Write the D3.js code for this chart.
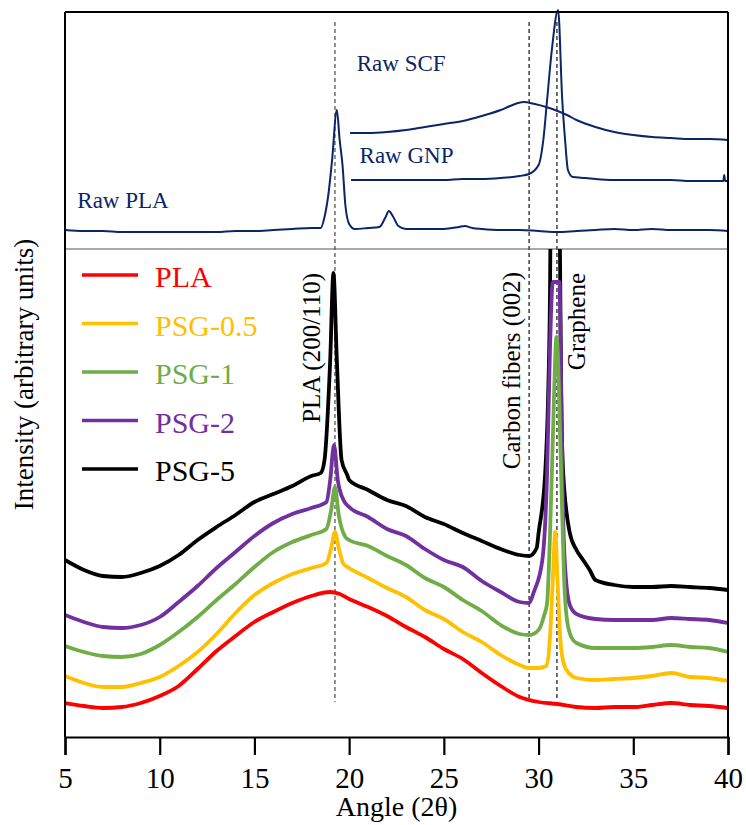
<!DOCTYPE html>
<html>
<head>
<meta charset="utf-8">
<script src="https://cdn.jsdelivr.net/npm/d3@7"></script>
<style>
    body { margin: 0; background: #fff; }
</style>
</head>
<body>
<svg id="xrd"></svg>
<script>
// angle (2theta), intensity (arbitrary units)
const rawPLA = [[5,770],[6,769],[7,769],[8,768],[9,768],[10,768],[11,768],[12,768],[13,768],[14,769],[15,769],[16,770],[17,771],[18,772],[18.5,772],[18.7,783],[18.9,805],[19.1,840],[19.35,890],[19.5,860],[19.65,835],[19.8,795],[20,776],[20.3,771],[21,772],[21.6,773],[21.9,782],[22.1,789],[22.3,784],[22.6,774],[23,771],[24,771],[25,771],[25.8,773],[26.1,774],[26.5,772],[27,771],[28,770],[29,770],[30,769],[31,768],[32,769],[33,770],[34,771],[35,770],[36,771],[37,770],[38,770],[39,770],[40,769]];
const rawSCF = [[20.05,867],[21,867],[22,868],[23,870],[24,873],[25,876],[26,879],[27,884],[28,890],[28.5,894],[29.2,898],[29.8,896],[30.4,893],[31,889],[31.5,885],[32,880],[33,873],[34,868],[35,865],[36,863],[37,862],[38,861],[39,861],[40,860]];
const rawGNP = [[20.1,820],[21,820],[22,820],[23,820],[24,820],[25,820],[26,821],[27,821],[28,822],[29,824],[29.5,826],[30,835],[30.25,860],[30.45,900],[30.7,950],[31.03,990],[31.25,900],[31.4,860],[31.55,830],[31.8,823],[32.5,822],[33,821],[34,820],[35,820],[36,820],[37,820],[38,819],[39,819],[39.75,819],[39.8,825],[39.85,819],[40,819]];

const pla = [[5,297],[6,294],[7,292],[8,293],[9,297],[10,304],[11,314],[12,331],[13,349],[14,364],[15,378],[16,388],[17,397],[18,404],[19,408],[19.5,406],[20,401],[21,393],[22,384],[23,373],[24,363],[25,351],[26,341],[27,327],[28,314],[29,303],[30,298],[31,296],[32,293],[33,292],[34,293],[35,293],[36,295],[37,297],[38,295],[39,294],[40,292]];
const psg05 = [[5,324],[6,317],[7,313],[8,313],[9,317],[10,323],[11,334],[12,348],[13,366],[14,387],[15,405],[16,417],[17,426],[18,432],[18.8,437],[19.05,452],[19.25,468],[19.45,452],[19.7,436],[20,432],[21,422],[22,412],[23,403],[24,390],[25,381],[26,368],[27,358],[28,345],[29,335],[29.5,332],[30,332],[30.4,334],[30.6,362],[30.75,420],[30.88,468],[31,420],[31.15,360],[31.35,335],[31.6,327],[32,322],[33,320],[34,321],[35,322],[36,324],[37,327],[38,323],[39,322],[40,319]];
const psg1 = [[5,354],[6,348],[7,344],[8,343],[9,346],[10,355],[11,368],[12,383],[13,400],[14,416],[15,433],[16,448],[17,458],[18,465],[18.8,471],[19.05,490],[19.25,513],[19.45,485],[19.8,463],[20,460],[21,454],[22,444],[23,435],[24,422],[25,413],[26,400],[27,389],[28,375],[29,366],[29.5,365],[30,370],[30.3,385],[30.45,397],[30.6,463],[30.75,560],[30.95,663],[31.2,520],[31.35,420],[31.5,380],[31.75,362],[32,357],[33,352],[34,352],[35,352],[36,353],[37,355],[38,353],[39,352],[40,348]];
const psg2 = [[5,385],[6,378],[7,373],[8,372],[9,375],[10,383],[11,398],[12,414],[13,432],[14,448],[15,464],[16,477],[17,486],[18,492],[18.8,498],[19,520],[19.2,555],[19.4,520],[19.7,500],[20,493],[21,483],[22,471],[23,464],[24,451],[25,440],[26,433],[27,419],[28,408],[29,398],[29.5,397],[29.75,408],[30.2,440],[30.45,527],[30.6,650],[30.75,718],[31.1,718],[31.2,600],[31.3,480],[31.45,420],[31.65,395],[32,386],[33,381],[34,380],[35,380],[36,380],[37,382],[38,381],[39,380],[40,377]];
const psg5 = [[5,440],[6,430],[7,424],[8,423],[9,427],[10,434],[11,445],[12,460],[13,473],[14,485],[15,498],[16,506],[17,514],[18,524],[18.5,527],[18.7,540],[19,640],[19.17,727],[19.35,640],[19.6,540],[19.9,525],[20,520],[21,510],[22,500],[23,494],[24,483],[25,476],[26,467],[27,459],[28,451],[29,445],[29.5,444],[29.9,452],[30,467],[30.35,527],[30.5,600],[30.6,700],[30.65,800],[31.1,800],[31.15,700],[31.2,600],[31.3,527],[31.65,467],[32,450],[32.35,440],[32.7,430],[33,420],[34,415],[35,413],[36,413],[37,414],[38,413],[39,412],[40,410]];

const sampleNames = ['PLA', 'PSG-0.5', 'PSG-1', 'PSG-2', 'PSG-5'];
const rawNames = ['Raw PLA', 'Raw SCF', 'Raw GNP'];
const angleTicks = [5, 10, 15, 20, 25, 30, 35, 40];
const peakAngles = [19.25, 29.5, 30.97];
const peakNames = ['PLA (200/110)', 'Carbon fibers (002)', 'Graphene'];
const panelSplit = 751;

const SERIF = "'Liberation Serif', 'Times New Roman', Times, 'DejaVu Serif', serif";

class XrdChart {

    constructor(_config) {
        this.config = {
            parentElement: _config.parentElement,
            containerWidth: _config.containerWidth || 746,
            containerHeight: _config.containerHeight || 825,
            margin: {top: 12, right: 18, bottom: 88, left: 65}
        };
        this.initVis();
    }

    initVis() {
        let vis = this;
        let m = vis.config.margin;

        vis.width = vis.config.containerWidth - m.left - m.right;
        vis.height = vis.config.containerHeight - m.top - m.bottom;

        vis.svg = d3.select(vis.config.parentElement)
            .attr('width', vis.config.containerWidth)
            .attr('height', vis.config.containerHeight)
            .style('font-family', SERIF);

        vis.chart = vis.svg.append('g')
            .attr('transform', `translate(${m.left},${m.top})`);

        vis.xScale = d3.scaleLinear().domain([5, 40]).range([0, vis.width]);
        vis.yScale = d3.scaleLinear().domain([263, 988]).range([vis.height, 0]);

        vis.line = d3.line()
            .x(d => vis.xScale(d[0]))
            .y(d => vis.yScale(d[1]))
            .curve(d3.curveMonotoneX);

        vis.render();
    }

    render() {
        let vis = this;
        let splitY = vis.yScale(panelSplit);

        // clip for the lower panel
        vis.svg.append('defs').append('clipPath').attr('id', 'lowerClip')
            .append('rect')
            .attr('x', 0).attr('y', splitY)
            .attr('width', vis.width).attr('height', vis.height - splitY);

        // dashed reference lines
        vis.chart.selectAll('.ref-line')
            .data(peakAngles)
            .join('line')
            .attr('class', 'ref-line')
            .attr('x1', d => vis.xScale(d)).attr('x2', d => vis.xScale(d))
            .attr('y1', 10).attr('y2', (d, i) => i === 0 ? 690 : 688)
            .attr('stroke', (d, i) => i === 0 ? '#777' : '#111')
            .attr('stroke-width', (d, i) => i === 0 ? 1.6 : 1.2)
            .attr('stroke-dasharray', '4,3');

        // upper panel: raw materials
        const navy = '#0B2566';
        vis.chart.selectAll('.raw-line')
            .data([rawPLA, rawSCF, rawGNP])
            .join('path')
            .attr('class', 'raw-line')
            .attr('fill', 'none')
            .attr('stroke', navy)
            .attr('stroke-width', 2)
            .attr('stroke-linejoin', 'round')
            .attr('d', vis.line);

        const rawLabelPos = [[5.65, 208 - 12], [20.4, 71 - 12], [20.55, 163 - 12]];
        vis.chart.selectAll('.raw-label')
            .data(rawNames)
            .join('text')
            .attr('class', 'raw-label')
            .attr('x', (d, i) => vis.xScale(rawLabelPos[i][0]))
            .attr('y', (d, i) => rawLabelPos[i][1])
            .attr('fill', navy)
            .style('font-family', SERIF)
            .attr('font-size', 23)
            .text(d => d);

        // divider
        vis.chart.append('line')
            .attr('x1', 0).attr('x2', vis.width)
            .attr('y1', splitY).attr('y2', splitY)
            .attr('stroke', '#555').attr('stroke-width', 1.2);

        // lower panel: composites (drawn top series first)
        const colors = ['#FF0000', '#FFC000', '#70AD47', '#7030A0', '#000000'];
        const series = [pla, psg05, psg1, psg2, psg5];
        const lower = vis.chart.append('g').attr('clip-path', 'url(#lowerClip)');
        lower.selectAll('.sample-line')
            .data(series.map((s, i) => ({s, i})).reverse())
            .join('path')
            .attr('class', 'sample-line')
            .attr('fill', 'none')
            .attr('stroke', d => colors[d.i])
            .attr('stroke-width', 3.8)
            .attr('stroke-linejoin', 'round')
            .attr('d', d => vis.line(d.s));

        // peak labels
        const peakLabelX = [320, 520, 585];
        const peakLabelTop = [273, 272, 273];
        vis.svg.selectAll('.peak-label')
            .data(peakNames)
            .join('text')
            .attr('class', 'peak-label')
            .attr('transform', (d, i) => `translate(${peakLabelX[i]},${peakLabelTop[i]}) rotate(-90)`)
            .attr('text-anchor', 'end')
            .style('font-family', SERIF)
            .attr('font-size', 25)
            .attr('fill', '#000')
            .text(d => d);

        // legend
        const legend = vis.svg.append('g').attr('class', 'legend');
        sampleNames.forEach((name, i) => {
            let y = 275 + i * 48.5;
            legend.append('line')
                .attr('x1', 82).attr('x2', 138)
                .attr('y1', y).attr('y2', y)
                .attr('stroke', colors[i]).attr('stroke-width', 3.5);
            legend.append('text')
                .attr('x', 155).attr('y', y + 12)
                .style('font-family', SERIF)
                .attr('font-size', 30)
                .attr('fill', colors[i])
                .text(name);
        });

        // frame
        vis.chart.append('line')
            .attr('x1', 0).attr('x2', vis.width).attr('y1', 0).attr('y2', 0)
            .attr('stroke', '#000').attr('stroke-width', 2);
        vis.chart.append('line')
            .attr('x1', vis.width).attr('x2', vis.width).attr('y1', 0).attr('y2', vis.height)
            .attr('stroke', '#000').attr('stroke-width', 2);
        vis.chart.append('line')
            .attr('x1', 0).attr('x2', 0).attr('y1', 0).attr('y2', vis.height)
            .attr('stroke', '#000').attr('stroke-width', 2);

        // x axis
        const xAxis = d3.axisBottom(vis.xScale)
            .tickValues(angleTicks)
            .tickSize(18)
            .tickPadding(12)
            .tickFormat(d3.format('d'));
        const xg = vis.chart.append('g')
            .attr('transform', `translate(0,${vis.height})`)
            .call(xAxis)
            .attr('font-family', null);
        xg.select('.domain').attr('stroke', '#000').attr('stroke-width', 2.2);
        xg.selectAll('.tick line').attr('stroke', '#000').attr('stroke-width', 2.2);
        xg.selectAll('.tick text')
            .attr('font-size', 29)
            .style('font-family', SERIF)
            .attr('fill', '#000');

        vis.svg.append('text')
            .attr('x', vis.config.margin.left + vis.width / 2)
            .attr('y', 816)
            .attr('text-anchor', 'middle')
            .style('font-family', SERIF)
            .attr('font-size', 28)
            .text('Angle (2θ)');

        vis.svg.append('text')
            .attr('transform', `translate(33,${vis.config.margin.top + vis.height / 2}) rotate(-90)`)
            .attr('text-anchor', 'middle')
            .style('font-family', SERIF)
            .attr('font-size', 27)
            .text('Intensity (arbitrary units)');
    }
}

let xrd = new XrdChart({parentElement: '#xrd'});
</script>
</body>
</html>
